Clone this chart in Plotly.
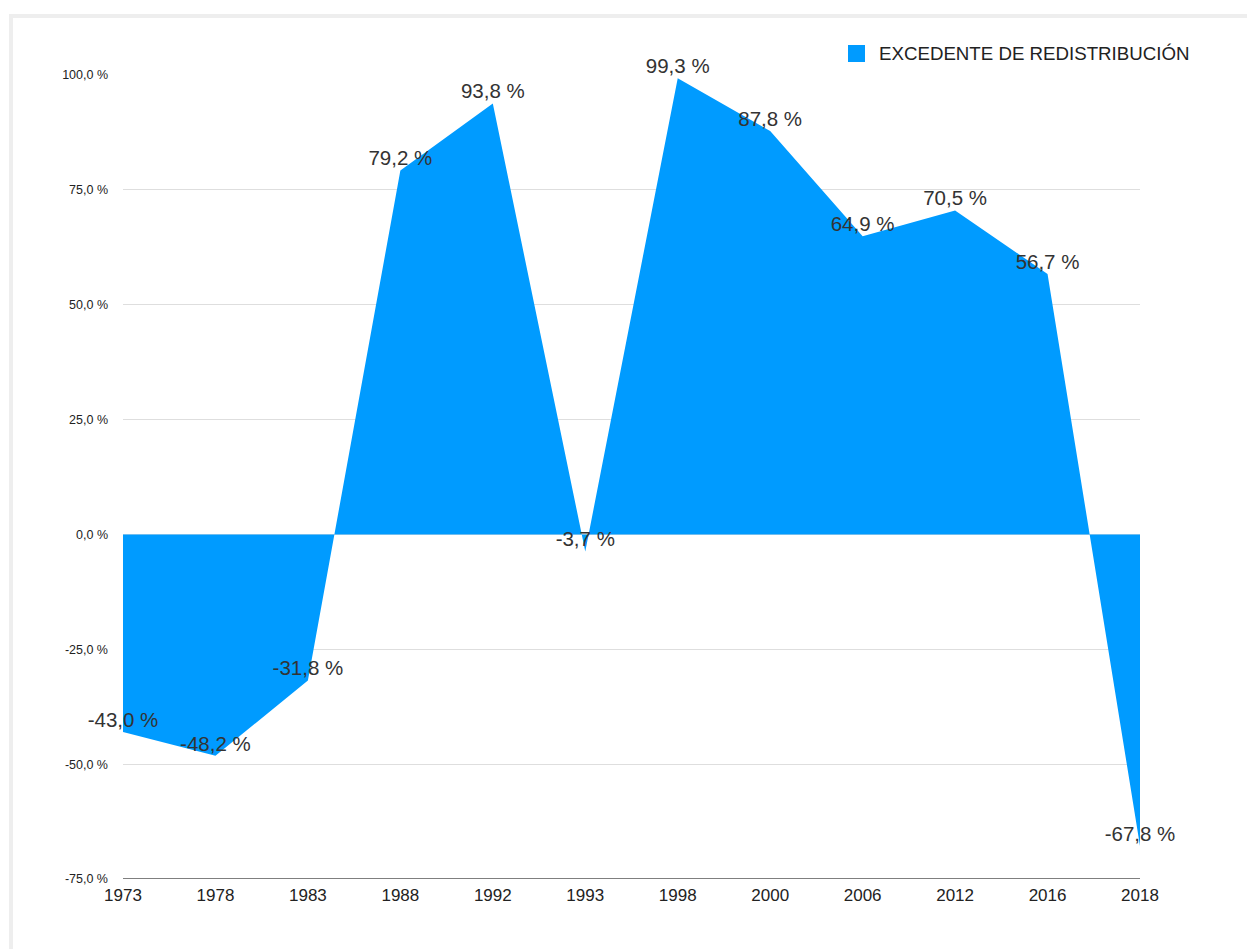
import plotly.graph_objects as go

years = ["1973", "1978", "1983", "1988", "1992", "1993", "1998", "2000", "2006", "2012", "2016", "2018"]
values = [-43.0, -48.2, -31.8, 79.2, 93.8, -3.7, 99.3, 87.8, 64.9, 70.5, 56.7, -67.8]
series_name = "EXCEDENTE DE REDISTRIBUCIÓN"
y_ticks = [-75, -50, -25, 0, 25, 50, 75, 100]
y_tick_labels = ["-75,0 %", "-50,0 %", "-25,0 %", "0,0 %", "25,0 %", "50,0 %", "75,0 %", "100,0 %"]

labels = [f"{v:.1f} %".replace(".", ",") for v in values]

FILL = "rgb(0,155,255)"
FONT = "Liberation Sans, Arial, Helvetica, sans-serif"

W, H = 1247, 941
L, R, T, B = 115, 115, 67, 70
PW, PH = W - L - R, H - T - B


def px_x(x):
    return (x - L) / PW


def px_y(y):
    return 1 - (y - T) / PH


fig = go.Figure()
fig.add_trace(go.Scatter(
    x=years, y=values, mode="lines+text", fill="tozeroy",
    fillcolor=FILL, line=dict(width=0, color=FILL),
    text=labels, textposition="top center", cliponaxis=False,
    textfont=dict(size=20.5, color="#333333", family=FONT),
    showlegend=False, hoverinfo="skip", name=series_name,
))

fig.update_layout(
    width=W, height=H,
    margin=dict(l=L, r=R, t=T, b=B),
    paper_bgcolor="white", plot_bgcolor="white",
    font=dict(family=FONT, color="#222222"),
    showlegend=False,
    xaxis=dict(type="category", range=[0, 11], showgrid=False,
               showline=False, ticks="", tickfont=dict(size=17, color="#222222"),
               ticklabelstandoff=4),
    yaxis=dict(range=[-75, 100], tickvals=y_ticks, ticktext=y_tick_labels,
               showgrid=True, gridcolor="#dedede", gridwidth=1,
               zeroline=False, showline=False, ticks="",
               tickfont=dict(size=12.5, color="#222222"), ticklabelstandoff=14),
    shapes=[
        dict(type="line", xref="paper", yref="y", x0=0, x1=1, y0=-75, y1=-75,
             line=dict(color="#555555", width=1.5)),
        dict(type="rect", xref="paper", yref="paper",
             x0=(3 - L) / PW, x1=1.3, y0=-0.3, y1=1 + (T - 8) / PH,
             line=dict(color="#eeeeee", width=4), layer="below"),
        # legend swatch
        dict(type="rect", xref="paper", yref="paper",
             x0=px_x(840), x1=px_x(857), y0=px_y(54), y1=px_y(37),
             line=dict(width=0), fillcolor=FILL),
    ],
    annotations=[
        dict(text=series_name, xref="paper", yref="paper",
             x=px_x(869), y=px_y(45.5), xanchor="left", yanchor="middle",
             showarrow=False, font=dict(size=18.7, color="#222222", family=FONT)),
    ],
)

fig.write_html("out.html")
